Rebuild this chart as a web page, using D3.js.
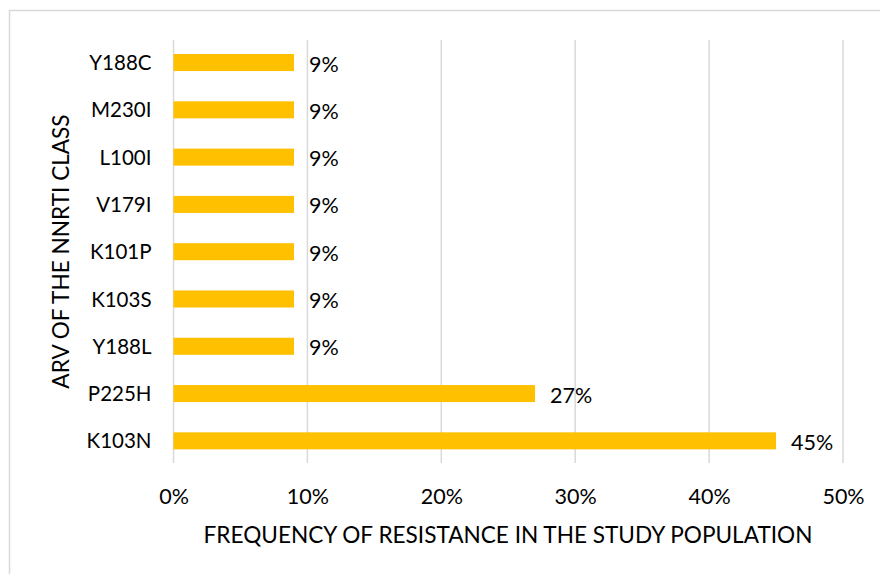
<!DOCTYPE html>
<html>
<head>
<meta charset="utf-8">
<script src="https://cdn.jsdelivr.net/npm/d3@7"></script>
<style>
  html, body { margin: 0; padding: 0; background: #fff; }
  svg { display: block; }
  text { font-family: Lato, "Open Sans", sans-serif; fill: #000; }
</style>
</head>
<body>
<script>
// Mutations of the NNRTI class and their frequency (%), listed bottom to top
const mutations = ["K103N", "P225H", "Y188L", "K103S", "K101P", "V179I", "L100I", "M230I", "Y188C"];
const frequency = [45, 27, 9, 9, 9, 9, 9, 9, 9];
const xTicks = [0, 10, 20, 30, 40, 50];

const width = 880, height = 574;
const plot = { left: 173.5, right: 843, top: 40, bottom: 463 };

const svg = d3.select("body").append("svg")
  .attr("width", width)
  .attr("height", height);

// outer frame (top and left edges fall inside the canvas)
svg.append("rect")
  .attr("x", 9.5).attr("y", 10.5)
  .attr("width", width + 10).attr("height", height + 10)
  .attr("fill", "none")
  .attr("stroke", "#d9d9d9")
  .attr("stroke-width", 1.5);

const x = d3.scaleLinear()
  .domain([0, 50])
  .range([plot.left, plot.right]);

const y = d3.scaleBand()
  .domain(mutations.slice().reverse())
  .range([38.9, 464.5])
  .paddingInner(0.64)
  .paddingOuter(0.32);

// vertical gridlines
svg.append("g")
  .selectAll("line")
  .data(xTicks)
  .join("line")
  .attr("x1", d => x(d)).attr("x2", d => x(d))
  .attr("y1", plot.top).attr("y2", plot.bottom)
  .attr("stroke", "#d9d9d9")
  .attr("stroke-width", 1.5);

// x tick labels
const xAxis = d3.axisBottom(x)
  .tickValues(xTicks)
  .tickFormat(d => d + "%")
  .tickSize(0)
  .tickPadding(0);
const gx = svg.append("g")
  .attr("transform", `translate(0, 496)`)
  .call(xAxis);
gx.select(".domain").remove();
gx.selectAll("text")
  .attr("font-size", 21.5)
  .attr("dy", "0.35em")
  .attr("fill", "#000")
  .style("font-family", "Lato, sans-serif");

// y category labels
const yAxis = d3.axisLeft(y).tickSize(0).tickPadding(22);
const gy = svg.append("g")
  .attr("transform", `translate(${plot.left}, 1)`)
  .call(yAxis);
gy.select(".domain").remove();
gy.selectAll("text")
  .attr("font-size", 20.5)
  .attr("fill", "#000")
  .style("font-family", "Lato, sans-serif");

// bars
const data = mutations.map((m, i) => ({ m, v: frequency[i] }));
svg.append("g")
  .selectAll("rect")
  .data(data)
  .join("rect")
  .attr("x", x(0))
  .attr("y", d => y(d.m))
  .attr("width", d => x(d.v) - x(0))
  .attr("height", y.bandwidth())
  .attr("fill", "#ffc000");

// value labels
svg.append("g")
  .selectAll("text")
  .data(data)
  .join("text")
  .attr("x", d => x(d.v) + 15)
  .attr("y", d => y(d.m) + y.bandwidth() / 2 + 1.5)
  .attr("dy", "0.35em")
  .attr("font-size", 21.5)
  .text(d => d.v + "%");

// axis titles
svg.append("text")
  .attr("x", 508)
  .attr("y", 535)
  .attr("dy", "0.35em")
  .attr("text-anchor", "middle")
  .attr("font-size", 22.6)
  .text("FREQUENCY OF RESISTANCE IN THE STUDY POPULATION");

svg.append("text")
  .attr("transform", `translate(69, ${(plot.top + plot.bottom) / 2}) rotate(-90)`)
  .attr("text-anchor", "middle")
  .attr("font-size", 22.6)
  .text("ARV OF THE NNRTI CLASS");
</script>
</body>
</html>
